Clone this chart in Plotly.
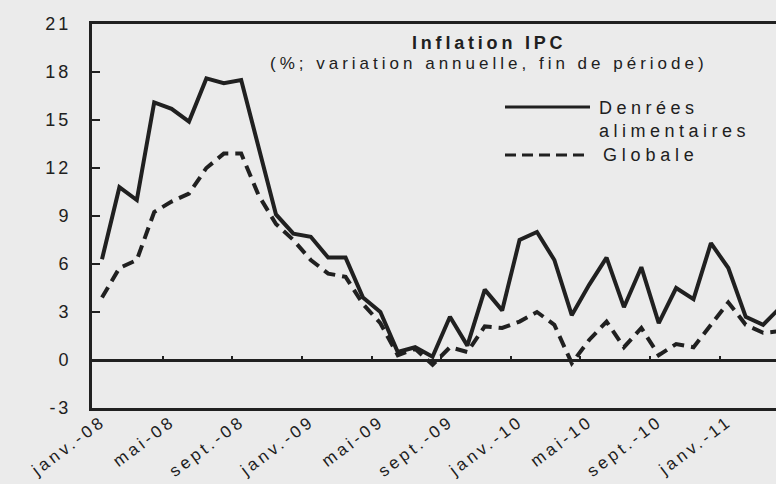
import plotly.graph_objects as go

months = ["janv.-08", "févr.-08", "mars-08", "avr.-08", "mai-08", "juin-08", "juil.-08", "août-08",
          "sept.-08", "oct.-08", "nov.-08", "déc.-08", "janv.-09", "févr.-09", "mars-09", "avr.-09",
          "mai-09", "juin-09", "juil.-09", "août-09", "sept.-09", "oct.-09", "nov.-09", "déc.-09",
          "janv.-10", "févr.-10", "mars-10", "avr.-10", "mai-10", "juin-10", "juil.-10", "août-10",
          "sept.-10", "oct.-10", "nov.-10", "déc.-10", "janv.-11", "févr.-11", "mars-11", "avr.-11"]

food = [6.3, 10.8, 10.0, 16.1, 15.7, 14.9, 17.6, 17.3, 17.5,
        13.3, 9.1, 7.9, 7.7, 6.4, 6.4, 3.9, 3.0, 0.5,
        0.8, 0.2, 2.7, 0.9, 4.4, 3.1, 7.5, 8.0, 6.25,
        2.8, 4.7, 6.4, 3.3, 5.8, 2.3, 4.5, 3.8, 7.3,
        5.75, 2.7, 2.2, 3.3]

overall = [3.9, 5.75, 6.25, 9.25, 9.9, 10.4, 12.0, 12.9, 12.9,
           10.3, 8.5, 7.5, 6.25, 5.4, 5.2, 3.5, 2.3, 0.3,
           0.7, -0.3, 0.8, 0.5, 2.1, 2.0, 2.4, 3.0, 2.2,
           -0.2, 1.25, 2.4, 0.8, 2.0, 0.3, 1.0, 0.8, 2.2,
           3.6, 2.2, 1.7, 1.8]

tick_labels = months[::4]
y_ticks = [-3, 0, 3, 6, 9, 12, 15, 18, 21]

name_food = "Denrées<br>alimentaires"
name_overall = "Globale"
title = "Inflation IPC"
subtitle = "(%; variation annuelle, fin de période)"

INK = "#202020"
BG = "#ebebeb"
FONT = "Liberation Sans, Arial, sans-serif"


def spaced(t, ls):
    return f'<span style="letter-spacing:{ls}px">{t}</span>'


fig = go.Figure()
fig.add_trace(go.Scatter(x=months, y=food, mode="lines", name="food",
                         line=dict(color=INK, width=4), showlegend=False))
fig.add_trace(go.Scatter(x=months, y=overall, mode="lines", name="overall",
                         line=dict(color=INK, width=4, dash="12px,7px"), showlegend=False))
# helper trace for the small ticks on the zero line
fig.add_trace(go.Scatter(x=[None], y=[None], xaxis="x2", showlegend=False, hoverinfo="skip"))

xr = [-0.575, 38.74]
boundaries = [i + 3.5 for i in range(0, 40, 4)]

fig.update_layout(
    width=776, height=484,
    margin=dict(l=92, r=0, t=24, b=76, autoexpand=False),
    paper_bgcolor=BG, plot_bgcolor=BG,
    font=dict(family=FONT, color=INK),
    xaxis=dict(type="category", range=xr, showline=True, linecolor=INK, linewidth=3,
               mirror=True, ticks="", showgrid=False, zeroline=False,
               tickmode="array", tickvals=tick_labels,
               ticktext=[spaced(t, 3.5) for t in tick_labels],
               ticklabelstandoff=-6,
               tickangle=-37, tickfont=dict(size=17, family=FONT, color=INK)),
    xaxis2=dict(overlaying="x", anchor="free", position=3 / 24, range=xr,
                showline=False, showgrid=False, zeroline=False, showticklabels=False,
                tickmode="array", tickvals=boundaries, ticks="inside", ticklen=4,
                tickwidth=1.5, tickcolor=INK),
    yaxis=dict(range=[-3, 21], showline=True, linecolor=INK, linewidth=3,
               showgrid=False, zeroline=True, zerolinecolor=INK, zerolinewidth=2.5,
               tickmode="array", tickvals=y_ticks,
               ticktext=[spaced(str(v), 3) for v in y_ticks],
               ticks="inside", ticklen=8, tickwidth=2, tickcolor=INK,
               ticklabelstandoff=14,
               tickfont=dict(size=18, family=FONT, color=INK)),
)

W, H = 684, 384


def px(xp):
    return (xp - 92) / W


def py(yp):
    return (408 - yp) / H


anns = [
    dict(x=px(489), y=py(43), text=spaced("<b>" + title + "</b>", 3.8), font=dict(size=18)),
    dict(x=px(489), y=py(63), text=spaced(subtitle, 4.0), font=dict(size=17)),
    dict(x=px(597), y=py(119), text=spaced(name_food, 4.5), font=dict(size=18),
         xanchor="left", align="left"),
    dict(x=px(601), y=py(155), text=spaced(name_overall, 4.8), font=dict(size=18),
         xanchor="left", align="left"),
]
for a in anns:
    a.setdefault("xanchor", "center")
    a.update(xref="paper", yref="paper", yanchor="middle", showarrow=False)
    a["font"] = dict(family=FONT, color=INK, size=a["font"]["size"])
fig.update_layout(annotations=anns)

fig.add_shape(type="line", xref="paper", yref="paper", x0=px(505), x1=px(590),
              y0=py(107), y1=py(107), line=dict(color=INK, width=3))
fig.add_shape(type="line", xref="paper", yref="paper", x0=px(505), x1=px(585),
              y0=py(155), y1=py(155), line=dict(color=INK, width=3, dash="11px,6px"))

fig.write_html(
    "out.html",
    config={"displayModeBar": False},
    post_script="document.body.style.margin='0';document.body.style.background='%s';"
                "document.body.style.overflow='hidden';" % BG,
)
